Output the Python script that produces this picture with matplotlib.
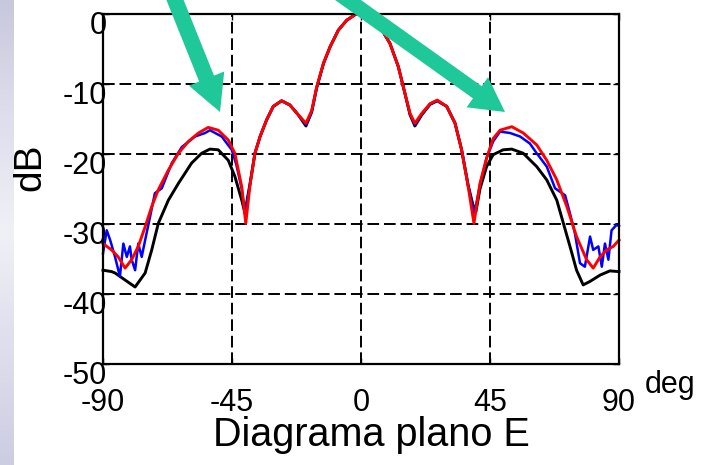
import numpy as np
import matplotlib
matplotlib.use("Agg")
import matplotlib.pyplot as plt
from matplotlib.patches import FancyArrow
from matplotlib.transforms import IdentityTransform, ScaledTranslation

# ---------------- data ----------------
black_deg = [-90, -87, -85.8, -82.3, -78.8, -75.3, -73.0, -70.7, -67.2, -63.7, -59.1, -55.6,
             -52.7, -49.8, -46.3, -44.0, -41.6, -40.5, -38.7, -37.0, -35.2, -32.9, -30.6,
             -27.7, -24.8, -21.9, -19.2, -17.2, -15.5, -13.1, -10.8, -7.9, -5.0, -2.1, 0,
             3.1, 6.6, 10.1, 13.0, 15.3, 17.1, 18.8, 21.2, 24.1, 26.6, 29.9, 32.8, 35.1,
             37.4, 39.0, 40.1, 41.5, 43.8, 46.1, 49.6, 52.6, 56.6, 61.3, 64.8, 68.3, 70.6,
             72.9, 75.2, 77.5, 79.9, 83.4, 86.8, 90]
black_db = [-36.6, -36.8, -37.0, -38.0, -39.0, -37.0, -33.7, -29.9, -26.6, -24.2, -21.3, -19.9,
            -19.3, -19.4, -20.9, -23.2, -26.6, -28.4, -24.2, -19.9, -17.5, -15.1, -13.2,
            -12.4, -13.0, -14.4, -16.0, -14.0, -10.6, -7.1, -4.7, -2.3, -0.9, -0.1, 0,
            -0.4, -1.8, -4.2, -7.5, -11.3, -14.4, -16.0, -14.4, -12.9, -12.4, -13.2, -15.6, -19.4,
            -24.5, -27.2, -28.2, -25.0, -21.8, -20.1, -19.4, -19.3, -19.9, -21.8, -23.7, -26.6, -29.9,
            -33.2, -36.6, -38.7, -38.2, -37.3, -36.7, -36.8]

blue_deg = [-90, -88.7, -87.5, -85.8, -84.1, -82.9, -81.7, -80.6, -80.0, -78.8, -77.7, -76.5,
            -75.3, -73.6, -71.9, -69.5, -66.0, -62.5, -57.9, -54.4, -52.7, -48.6, -45.1,
            -43.5, -41.6, -40.4, -38.7, -37.0, -35.2, -32.9, -30.6, -27.7, -24.8, -21.9,
            -19.2, -17.2, -15.5, -13.1, -10.8, -7.9, -5.0, -2.1, 0, 3.1, 6.6, 10.1, 13.0,
            15.3, 17.1, 18.8, 21.2, 24.1, 26.6, 29.9, 32.8, 35.1, 37.4, 39.5, 41.5, 43.8,
            46.1, 48.5, 52.0, 55.5, 58.9, 61.3, 64.8, 67.7, 71.2, 72.9, 74.6, 76.4, 78.1,
            79.9, 81.0, 82.8, 84.0, 85.1, 86.3, 87.4, 89.2, 90]
blue_db = [-34.2, -30.9, -32.3, -34.7, -37.5, -32.8, -34.7, -33.2, -35.1, -36.6, -32.8, -34.7,
           -32.3, -29.0, -25.6, -24.9, -21.3, -19.0, -17.5, -17.0, -16.6, -17.5, -19.4,
           -21.5, -25.0, -28.6, -24.3, -19.9, -17.5, -15.1, -13.2, -12.4, -13.0, -14.4,
           -15.8, -14.0, -10.6, -7.1, -4.7, -2.3, -0.9, -0.1, 0, -0.4, -1.8, -4.2, -7.5,
           -11.3, -14.3, -15.8, -14.3, -12.9, -12.4, -13.2, -15.6, -19.4, -24.6, -28.6, -24.4, -20.6,
           -18.2, -16.8, -17.0, -17.5, -18.5, -19.9, -21.8, -24.9, -25.9, -28.5, -31.3, -35.6, -36.1,
           -31.8, -33.7, -33.2, -36.1, -32.8, -35.1, -30.9, -30.1, -30.3]

red_deg = [-90, -87, -84.7, -82.3, -80.0, -77.7, -75.3, -73.0, -70.7, -67.2, -63.7, -60.2,
           -56.7, -53.3, -49.8, -46.3, -44.0, -41.6, -40.2, -38.7, -37.0, -35.2, -32.9, -30.6,
           -27.7, -24.8, -21.9, -19.2, -17.2, -15.5, -13.1, -10.8, -7.9, -5.0, -2.1, 0,
           3.1, 6.6, 10.1, 13.0, 15.3, 17.1, 18.8, 21.2, 24.1, 26.6, 29.9, 32.8, 35.1,
           37.4, 39.4, 41.5, 43.8, 46.1, 48.5, 52.6, 56.6, 61.3, 64.8, 68.3, 71.8, 75.2,
           78.7, 81.0, 83.4, 85.7, 88.0, 90]
red_db = [-32.8, -33.7, -34.7, -36.3, -35.1, -33.2, -30.4, -27.5, -25.1, -22.3, -19.9, -18.2,
          -17.0, -16.2, -16.6, -18.0, -19.9, -24.7, -29.9, -24.4, -19.9, -17.5, -15.1, -13.2,
          -12.4, -13.0, -14.4, -15.6, -13.8, -10.5, -7.0, -4.7, -2.3, -0.9, -0.1, 0,
          -0.4, -1.8, -4.2, -7.5, -11.3, -14.2, -15.6, -14.2, -12.8, -12.3, -13.2, -15.6, -19.4,
          -24.7, -29.9, -24.2, -20.6, -17.8, -16.6, -16.1, -17.0, -18.7, -20.9, -23.7, -27.5, -31.8,
          -35.1, -36.3, -34.7, -33.7, -33.2, -32.3]

x_ticks = [-90, -45, 0, 45, 90]
x_ticklabels = ["-90", "-45", "0", "45", "90"]
y_ticks = [0, -10, -20, -30, -40, -50]
y_ticklabels = ["0", "-10", "-20", "-30", "-40", "-50"]

# ---------------- figure ----------------
W, H = 702, 465
plt.rcParams['font.family'] = ['Liberation Sans', 'DejaVu Sans']
fig = plt.figure(figsize=(W / 100, H / 100), dpi=100)
fig.patch.set_facecolor('white')

# lavender slide strip on the left
bg = fig.add_axes([0, 0, 14 / W, 1])
grad = np.interp(np.linspace(0, 4, 200), np.arange(5), np.arange(5))
cols = np.array([[200, 200, 220], [222, 222, 236], [240, 240, 247], [222, 222, 236], [205, 205, 226]]) / 255.0
img = np.array([[np.interp(g, np.arange(5), cols[:, c]) for c in range(3)] for g in grad])[:, None, :]
bg.imshow(img, aspect='auto', extent=[0, 1, 0, 1])
bg.set_axis_off()

ax = fig.add_axes([103 / W, 1 - 364 / H, (619 - 103) / W, (364 - 14) / H])
ax.set_xlim(-90, 90)
ax.set_ylim(-50, 0)

ax.plot(black_deg, black_db, color='black', lw=2.1, clip_on=False, zorder=3,
        solid_joinstyle='round')
ax.plot(blue_deg, blue_db, color='#0000ff', lw=1.8, clip_on=False, zorder=4,
        solid_joinstyle='round')
ax.plot(red_deg, red_db, color='#ff0000', lw=2.1, clip_on=False, zorder=5,
        solid_joinstyle='round')

ax.set_xticks(x_ticks)
ax.set_xticklabels(x_ticklabels)
ax.set_yticks(y_ticks)
ax.set_yticklabels(y_ticklabels)
ax.grid(True, color='black', linestyle=(0, (6, 2.5)), linewidth=1.4)
ax.tick_params(axis='both', direction='in', length=4, width=1.0, labelsize=22,
               top=True, right=True)
ax.tick_params(axis='y', pad=-3)
ax.tick_params(axis='x', pad=17)
for sp in ax.spines.values():
    sp.set_linewidth(1.6)
    sp.set_zorder(6)

off = ScaledTranslation(0, -0.08, fig.dpi_scale_trans)
for lab in ax.get_yticklabels():
    lab.set_transform(lab.get_transform() + off)

fig.text(645 / W, 1 - 393 / H, 'deg', fontsize=22, ha='left', va='baseline')
fig.text(371 / W, 1 - 446 / H, 'Diagrama plano E', fontsize=28.5, ha='center', va='baseline')
fig.text(30 / W, 1 - 167 / H, 'dB', fontsize=28, rotation=90, ha='center', va='center')

# teal arrows (display pixel coords, y up)
teal = '#1fc898'
a1 = FancyArrow(171, H + 10, 49, -122, width=16, head_width=38, head_length=36,
                length_includes_head=True, transform=IdentityTransform(),
                color=teal, lw=0, zorder=10)
a2 = FancyArrow(334, H + 10, 171, -122, width=15, head_width=37, head_length=34,
                length_includes_head=True, transform=IdentityTransform(),
                color=teal, lw=0, zorder=10)
fig.patches.extend([a1, a2])

fig.savefig('out.png', dpi=100)
